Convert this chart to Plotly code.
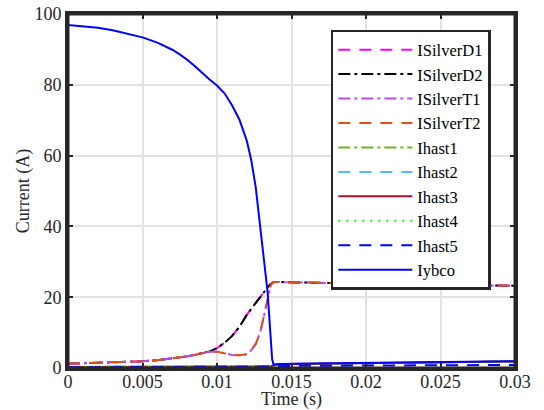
import plotly.graph_objects as go

# ---------------- data ----------------
time_s = [0, 0.001, 0.002, 0.003, 0.004, 0.005, 0.006, 0.007, 0.0075, 0.008,
          0.0085, 0.009, 0.0095, 0.01, 0.0105, 0.011, 0.0115, 0.012, 0.0123,
          0.0126, 0.0129, 0.0132, 0.0134, 0.0136, 0.0137, 0.0138, 0.014,
          0.015, 0.02, 0.025, 0.03]

i_silver_d1 = [1.2, 1.3, 1.4, 1.55, 1.7, 1.9, 2.2, 2.7, 3.0, 3.3,
               3.7, 4.1, 4.7, 5.6, 7.1, 9.0, 11.6, 15.0, 16.8,
               18.4, 20.0, 21.8, 22.8, 23.7, 24.1, 24.3, 24.3,
               24.2, 23.8, 23.5, 23.2]
i_silver_d2 = [1.2, 1.3, 1.4, 1.55, 1.7, 1.9, 2.2, 2.7, 3.0, 3.3,
               3.7, 4.1, 4.7, 5.6, 7.1, 9.0, 11.6, 15.0, 16.8,
               18.4, 20.0, 21.8, 22.8, 23.7, 24.1, 24.3, 24.3,
               24.2, 23.8, 23.5, 23.2]
i_silver_t1 = [1.2, 1.3, 1.4, 1.55, 1.7, 1.9, 2.2, 2.7, 3.0, 3.3,
               3.7, 4.1, 4.6, 4.6, 4.1, 3.7, 3.6, 3.9, 5.0,
               6.8, 10.0, 15.5, 19.5, 23.2, 24.0, 24.3, 24.3,
               24.2, 23.8, 23.5, 23.2]
i_silver_t2 = [1.2, 1.3, 1.4, 1.55, 1.7, 1.9, 2.2, 2.7, 3.0, 3.3,
               3.7, 4.1, 4.6, 4.6, 4.1, 3.7, 3.6, 3.9, 5.0,
               6.8, 10.0, 15.5, 19.5, 23.2, 24.0, 24.3, 24.3,
               24.2, 23.8, 23.5, 23.2]
i_hast1 = [0.3, 0.3, 0.3, 0.3, 0.3, 0.3, 0.3, 0.3, 0.3, 0.3,
           0.3, 0.3, 0.3, 0.3, 0.3, 0.3, 0.3, 0.3, 0.3,
           0.3, 0.35, 0.35, 0.35, 0.4, 0.6, 0.8, 1.0,
           1.1, 1.4, 1.65, 1.85]
i_hast2 = [0.3, 0.3, 0.3, 0.3, 0.3, 0.3, 0.3, 0.3, 0.3, 0.3,
           0.3, 0.3, 0.3, 0.3, 0.3, 0.3, 0.3, 0.3, 0.3,
           0.3, 0.35, 0.35, 0.35, 0.4, 0.6, 0.8, 1.0,
           1.1, 1.4, 1.65, 1.85]
i_hast3 = [0.3, 0.3, 0.3, 0.3, 0.3, 0.3, 0.3, 0.3, 0.3, 0.3,
           0.3, 0.3, 0.3, 0.3, 0.3, 0.3, 0.3, 0.3, 0.3,
           0.3, 0.35, 0.35, 0.35, 0.4, 0.6, 0.8, 1.0,
           1.1, 1.4, 1.65, 1.85]
i_hast4 = [0.3, 0.3, 0.3, 0.3, 0.3, 0.3, 0.3, 0.3, 0.3, 0.3,
           0.3, 0.3, 0.3, 0.3, 0.3, 0.3, 0.3, 0.3, 0.3,
           0.3, 0.35, 0.35, 0.35, 0.4, 0.6, 0.8, 1.0,
           1.1, 1.4, 1.65, 1.85]
i_hast5 = [0.2, 0.2, 0.2, 0.2, 0.2, 0.2, 0.2, 0.2, 0.2, 0.2,
           0.2, 0.2, 0.2, 0.2, 0.2, 0.2, 0.2, 0.2, 0.2,
           0.2, 0.2, 0.25, 0.25, 0.3, 0.4, 0.5, 0.55,
           0.6, 0.7, 0.8, 0.85]
i_ybco = [96.9, 96.6, 96.1, 95.4, 94.5, 93.4, 91.9, 89.9, 88.6, 87.1,
          85.3, 83.3, 81.5, 79.8, 77.6, 74.3, 70.2, 64.2, 58.7,
          51.0, 40.3, 29.2, 21.3, 8.7, 2.5, 0.9, 1.05,
          1.2, 1.45, 1.7, 1.9]

x_ticks = [0, 0.005, 0.01, 0.015, 0.02, 0.025, 0.03]
x_tick_labels = ["0", "0.005", "0.01", "0.015", "0.02", "0.025", "0.03"]
y_ticks = [0, 20, 40, 60, 80, 100]

series = [
    ("ISilverD1", i_silver_d1, "#FF00FF", "12px,9px"),
    ("ISilverD2", i_silver_d2, "#000000", "12px,4px,3px,4px"),
    ("ISilverT1", i_silver_t1, "#B84DF7", "12px,4px,3px,4px"),
    ("ISilverT2", i_silver_t2, "#D95319", "12px,9px"),
    ("Ihast1", i_hast1, "#77AC30", "12px,4px,3px,4px"),
    ("Ihast2", i_hast2, "#4DBEEE", "12px,9px"),
    ("Ihast3", i_hast3, "#A2142F", "solid"),
    ("Ihast4", i_hast4, "#00FF00", "2px,6px"),
    ("Ihast5", i_hast5, "#0000FF", "12px,9px"),
    ("Iybco", i_ybco, "#0000FF", "solid"),
]

FONT = "Liberation Serif, Times New Roman, serif"
AXC = "#262626"

fig = go.Figure()
for name, vals, color, dash in series:
    fig.add_trace(go.Scatter(x=time_s, y=vals, mode="lines", name=name,
                             line=dict(color=color, width=2, dash=dash)))

axis_common = dict(showline=True, linecolor=AXC, linewidth=3, mirror="ticks",
                   ticks="inside", ticklen=5, tickwidth=2, tickcolor=AXC,
                   showgrid=True, gridcolor="#E3E3E3", gridwidth=1.5,
                   zeroline=False, automargin=False, ticklabeloverflow="allow",
                   tickfont=dict(family=FONT, size=18, color=AXC))

fig.update_xaxes(range=[0, 0.03], tickvals=x_ticks, ticktext=x_tick_labels,
                 ticklabelstandoff=-5,
                 title=dict(text="Time (s)", font=dict(family=FONT, size=18, color=AXC),
                            standoff=6),
                 **axis_common)
fig.update_yaxes(range=[0, 100], tickvals=y_ticks,
                 title=dict(text="Current (A)", font=dict(family=FONT, size=18, color=AXC),
                            standoff=1),
                 **axis_common)

# axes box frame around the plotting area
fig.add_shape(type="rect", xref="paper", yref="paper", x0=0, y0=0, x1=1, y1=1,
              line=dict(color=AXC, width=3), fillcolor="rgba(0,0,0,0)", layer="above")

fig.update_layout(
    width=544, height=410,
    margin=dict(l=68, r=29, t=14, b=42),
    paper_bgcolor="white", plot_bgcolor="white",
    font=dict(family=FONT, size=18, color=AXC),
    showlegend=True,
    legend=dict(x=0.588, y=0.955, xanchor="left", yanchor="top",
                bgcolor="white", bordercolor=AXC, borderwidth=2.5,
                font=dict(family=FONT, size=16.5, color="#000000"),
                itemwidth=74, tracegroupgap=0),
)

# remove the page's default body margin so the figure sits at the window corner
fig.write_html("out.html", config={"displayModeBar": False},
               post_script="document.body.style.margin='0px';")
